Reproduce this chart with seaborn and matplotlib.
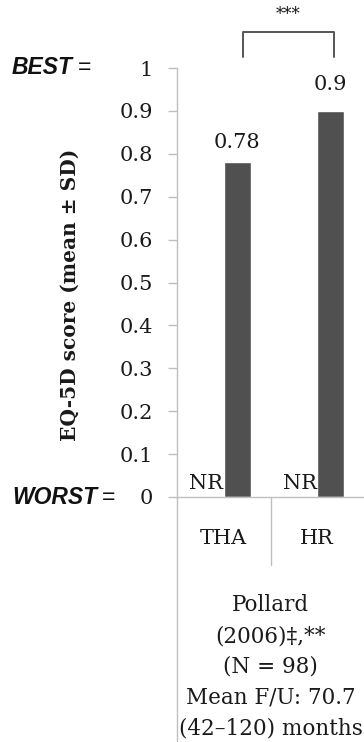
import numpy as np
import pandas as pd
import matplotlib
matplotlib.use("Agg")
import matplotlib.pyplot as plt
import matplotlib.transforms as mtransforms
from matplotlib.lines import Line2D
import seaborn as sns

# ---- data -------------------------------------------------------------
procedures = ["THA", "HR"]
timepoints = ["Baseline", "Follow-up"]
baseline_scores = [np.nan, np.nan]      # not reported (NR)
followup_scores = [0.78, 0.90]
y_ticks = [0, 0.1, 0.2, 0.3, 0.4, 0.5, 0.6, 0.7, 0.8, 0.9, 1]
y_label = "EQ-5D score (mean ± SD)"
missing_label = "NR"
best_label = "BEST"
worst_label = "WORST"
significance = "***"
study_label = "Pollard\n(2006)‡,**\n(N = 98)\nMean F/U: 70.7\n(42–120) months"

df = pd.DataFrame({
    "procedure": procedures * 2,
    "timepoint": [timepoints[0]] * 2 + [timepoints[1]] * 2,
    "score": baseline_scores + followup_scores,
})

# ---- style ------------------------------------------------------------
sns.set_style("white")
serif = ["DejaVu Serif"]
sans = ["Liberation Sans", "DejaVu Sans"]
plt.rcParams["font.family"] = serif
text_color = "#1a1a1a"
line_color = "#bfbfbf"
bar_color = "#505050"

fig = plt.figure(figsize=(3.64, 7.42), dpi=100)
W, H = 364, 742
ax_left, ax_right, ax_top, ax_bottom = 177, 364, 68, 497
ax = fig.add_axes([ax_left / W, 1 - ax_bottom / H,
                   (ax_right - ax_left) / W, (ax_bottom - ax_top) / H])

bar_width = 0.58
sns.barplot(data=df, x="procedure", y="score", hue="timepoint",
            order=procedures, hue_order=timepoints,
            palette=[bar_color, bar_color], saturation=1,
            width=bar_width, legend=False, errorbar=None, ax=ax)

ax.set_xlim(-0.5, len(procedures) - 0.5)
ax.set_ylim(0, 1)
ax.set_yticks(y_ticks)
ax.set_yticklabels([f"{t:g}" for t in y_ticks])
ax.set_xlabel("")

for side in ["top", "right"]:
    ax.spines[side].set_visible(False)
for side in ["left", "bottom"]:
    ax.spines[side].set_color(line_color)
    ax.spines[side].set_linewidth(1.0)

ax.tick_params(axis="y", direction="out", length=6.5, width=1.0,
               color=line_color, pad=11, labelsize=15, labelcolor=text_color)
ax.tick_params(axis="x", length=0, pad=23, labelsize=15, labelcolor=text_color)
ax.tick_params(left=True)

ax.set_ylabel(y_label, fontsize=14.5, fontweight="bold", color=text_color)
ax.yaxis.set_label_coords(-(ax_left - 70) / (ax_right - ax_left), 0.47)
ax.yaxis.label.set_va("center")

# ---- value labels -----------------------------------------------------
followup_bars = ax.containers[-1]
label_offsets = [10, 17]
bar_centers = []
for patch, val, off in zip(followup_bars.patches, followup_scores, label_offsets):
    cx = patch.get_x() + patch.get_width() / 2
    bar_centers.append(cx)
    ax.annotate(f"{val:g}", xy=(cx, patch.get_height()), xytext=(0, off),
                textcoords="offset pixels", ha="center", va="bottom",
                fontsize=15, color=text_color)

for i, val in enumerate(baseline_scores):
    if np.isnan(val):
        cx = i - bar_width / 4
        ax.annotate(missing_label, xy=(cx, 0), xytext=(-4, 4),
                    textcoords="offset pixels", ha="center", va="bottom",
                    fontsize=15, color=text_color)

# ---- category frame below the axis -----------------------------------
blend = mtransforms.blended_transform_factory(ax.transData, ax.transAxes)
axes_px = ax_bottom - ax_top
ax.add_line(Line2D([-0.5, -0.5], [0, -(H - ax_bottom) / axes_px],
                   transform=blend, color=line_color, lw=1.0, clip_on=False))
for k in range(len(procedures) - 1):
    ax.add_line(Line2D([k + 0.5, k + 0.5], [0, -(565 - ax_bottom) / axes_px],
                       transform=blend, color=line_color, lw=1.0, clip_on=False))

ax.text((len(procedures) - 1) / 2, -(667 - ax_bottom) / axes_px, study_label,
        transform=blend, ha="center", va="center", fontsize=15.5,
        linespacing=1.52, color=text_color)

# ---- significance bracket --------------------------------------------
bx0, bx1 = bar_centers[0] + 0.06, bar_centers[1] + 0.03
y_low, y_high = 1.025, 1.084
ax.plot([bx0, bx0, bx1, bx1], [y_low, y_high, y_high, y_low],
        color="#555555", lw=1.4, clip_on=False, solid_joinstyle="round")
ax.text((bx0 + bx1) / 2, 1.125, significance, ha="center", va="center",
        fontsize=12, color=text_color)

# ---- BEST / WORST markers --------------------------------------------
side = mtransforms.blended_transform_factory(fig.transFigure, ax.transData)
for word, yv in [(best_label, 1), (worst_label, 0)]:
    t = fig.text(12 / W, yv, word, transform=side, ha="left", va="center",
                 fontsize=16.5, fontweight="bold", fontstyle="italic",
                 family=sans, color="#111111")
    ax.annotate("=", xy=(1, 0.5), xycoords=t, xytext=(5, 0),
                textcoords="offset pixels", ha="left", va="center",
                fontsize=16.5, family=sans, color="#111111")

fig.savefig("out.png", dpi=100)
